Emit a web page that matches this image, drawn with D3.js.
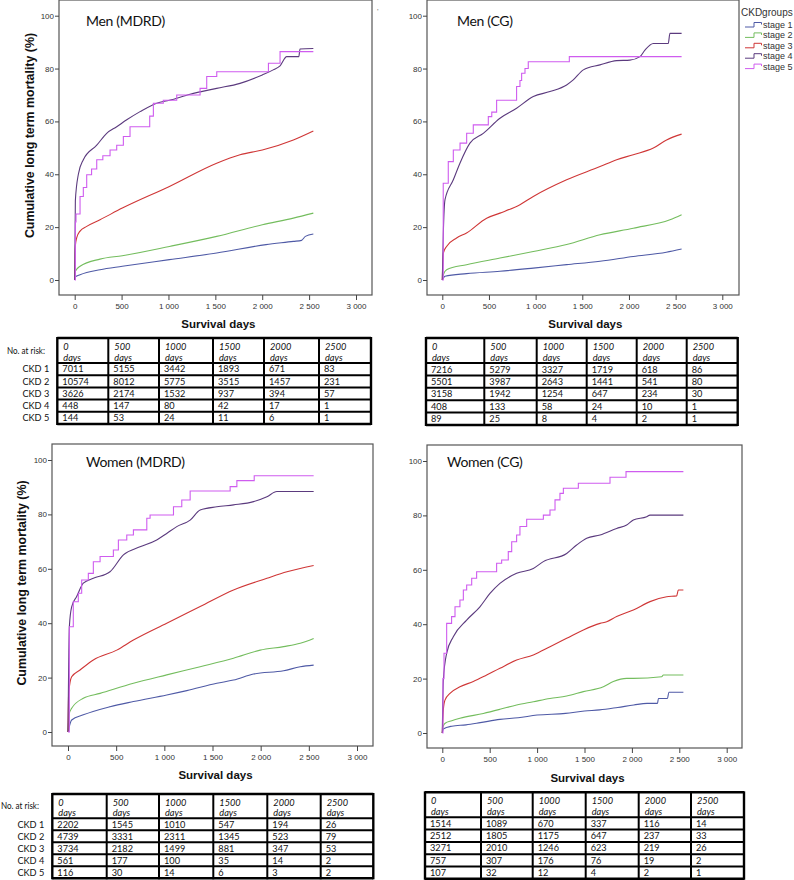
<!DOCTYPE html>
<html><head><meta charset="utf-8">
<script src="https://cdn.jsdelivr.net/npm/d3@7"></script>
<style>
body{margin:0;background:#fff;}
svg{display:block;}
</style></head>
<body><svg id="c" width="794" height="880"></svg>
<script>
// ---------- data ----------
const stages = ["stage 1","stage 2","stage 3","stage 4","stage 5"];
const stageColors = ["#4f5aa6","#74bd5e","#cf3636","#5b3a7e","#cf5cef"];
const xTicks = [0,500,1000,1500,2000,2500,3000];
const xTickLabels = ["0","500","1 000","1 500","2 000","2 500","3 000"];
const yTicks = [0,20,40,60,80,100];
const riskDays = ["0","500","1000","1500","2000","2500"];
const riskRows = ["CKD 1","CKD 2","CKD 3","CKD 4","CKD 5"];

// Men (MDRD) cumulative mortality [day, %]
const menMDRD1 = [[0,0],[7,1.2],[57,2],[270,3.9],[508,5.2],[1010,7.7],[1514,10.2],[2040,13.4],[2332,14.6],[2420,15],[2460,16.5],[2545,17.4]];
const menMDRD2 = [[0,0],[7,3.3],[57,5.2],[270,7.9],[508,9.2],[1010,12.7],[1514,16.5],[2001,20.9],[2332,23.4],[2545,25.3]];
const menMDRD3 = [[0,0],[3,10],[7,13],[21,15.9],[57,18.5],[128,20.3],[270,22.8],[508,27.2],[1010,35.4],[1514,44.2],[1763,47.4],[2001,49.2],[2332,53],[2545,56.4]];
const menMDRD4 = [[0,0],[7,30],[39,40],[92,45.5],[235,51],[341,55.5],[448,58],[555,60.6],[697,63.7],[875,66.9],[1010,68],[1230,70.3],[1514,72.5],[1763,74.4],[2001,77.6],[2117,79.5],[2190,81],[2261,84.5],[2390,84.5],[2403,87.4],[2545,87.6]];
const menMDRD5 = [[0,0],[7,22],[14,25],[57,31.6],[92,35],[128,39.8],[180,42],[235,45.5],[300,47],[377,49.2],[448,51],[519,54.3],[590,58],[800,62],[839,66.9],[945,68],[1088,70],[1337,72.5],[1408,77],[1515,78.8],[2066,82],[2190,86.4],[2545,86.4]];
// Men (CG)
const menCG1 = [[0,0],[29,1.4],[260,2.4],[618,3.3],[975,4.5],[1332,5.8],[1690,7.1],[2046,8.9],[2400,10.5],[2564,11.7]];
const menCG2 = [[0,0],[11,2],[46,3.9],[260,5.8],[618,8.3],[975,10.8],[1332,13.4],[1690,17.1],[2046,19.6],[2439,22.8],[2564,24.7]];
const menCG3 = [[0,0],[11,10.2],[46,12.7],[153,15.9],[260,17.8],[475,23.4],[618,25.3],[832,28.5],[975,31.6],[1332,37.9],[1690,42.9],[1868,45.5],[2046,47.4],[2261,49.9],[2403,53],[2564,55.2]];
const menCG4 = [[0,0],[11,17.8],[29,30.4],[118,37.9],[189,44.2],[296,51.8],[439,55.5],[618,61.2],[796,65],[975,69.4],[1153,71.3],[1332,73.8],[1403,75.7],[1511,79.5],[1689,81.4],[1868,83],[2010,83.2],[2118,84.5],[2171,87],[2261,89.5],[2421,89.5],[2439,93.3],[2564,93.3]];
const menCG5 = [[0,0],[10,36.6],[64,44.8],[118,49.2],[190,51.8],[261,55.5],[332,58.7],[493,61.8],[530,63.5],[582,68],[796,73.2],[832,75.5],[850,78.2],[886,80],[921,82.6],[1361,84.5],[2564,84.5]];
// Women (MDRD)
const womenMDRD1 = [[0,0],[38,4.4],[159,6.3],[436,9.3],[679,11.2],[1025,13.6],[1233,15.2],[1545,17.9],[1718,19.1],[1926,21.3],[2238,22.5],[2411,24],[2550,24.6]];
const womenMDRD2 = [[0,0],[14,6.9],[38,8.7],[159,12.4],[333,14.2],[679,17.9],[1025,21],[1372,24],[1718,27.1],[1995,30.1],[2238,31.4],[2411,32.6],[2550,34.4]];
const womenMDRD3 = [[0,0],[7,14.2],[38,20.3],[125,22.8],[263,26.5],[506,30.1],[679,33.8],[1025,40],[1372,46.1],[1718,52.2],[2065,56.5],[2273,58.9],[2550,61.2]];
const womenMDRD4 = [[0,0],[14,38.7],[38,46],[90,49.8],[159,54.7],[263,56.5],[436,58.9],[575,65.1],[748,68.1],[921,70.6],[1025,73],[1129,75.5],[1268,77.9],[1372,81.6],[1545,82.8],[1718,83.5],[1926,84.7],[2065,86.5],[2168,88.4],[2550,88.4]];
const womenMDRD5 = [[0,0],[14,38.7],[55,47.9],[107,51],[142,55.9],[211,58.3],[263,62.6],[333,64.5],[471,66.9],[523,70.6],[610,72.4],[679,74.3],[818,78.6],[852,79.8],[1095,82.8],[1181,85.3],[1268,88.6],[1683,90.2],[1753,92.4],[1933,94.2],[2550,94.2]];
// Women (CG)
const womenCG1 = [[0,0],[10,1.5],[100,2.5],[250,3],[400,3.8],[608,5],[800,5.6],[1000,6.6],[1300,7.2],[1500,8.1],[1660,8.5],[1850,9.4],[2020,10.3],[2160,10.9],[2270,10.9],[2280,12.7],[2375,12.7],[2390,15],[2543,15]];
const womenCG2 = [[0,0],[5,1.5],[10,2.5],[30,3.6],[100,4.5],[186,5.4],[433,7.2],[608,8.7],[784,10.3],[960,11.5],[1136,12.7],[1312,13.6],[1488,15.2],[1699,17],[1804,18.9],[1945,20.1],[2015,20.1],[2314,20.7],[2332,21.3],[2543,21.3]];
const womenCG3 = [[0,0],[11,8.5],[28,12.1],[81,14.6],[186,17],[327,18.9],[468,21.3],[608,23.8],[784,26.8],[960,28.7],[1136,31.7],[1312,34.8],[1488,37.9],[1664,40.3],[1734,40.9],[1839,42.8],[2015,45.2],[2191,48.3],[2367,50.1],[2472,50.4],[2490,52.6],[2543,52.6]];
const womenCG4 = [[0,0],[11,19.5],[46,29.3],[116,35.4],[257,41.5],[397,46.4],[503,51.3],[608,55],[784,58.7],[960,60.5],[1066,63],[1312,66],[1417,69.1],[1523,71.6],[1664,72.8],[1839,75.2],[1945,76.5],[2015,78.3],[2156,79.5],[2191,80.1],[2543,80.1]];
const womenCG5 = [[0,0],[7,20],[18,29.3],[46,40.3],[98,42.8],[134,46.4],[186,48.9],[222,52.6],[257,54.4],[310,56.9],[362,59.3],[573,62.4],[626,63.6],[696,66.7],[732,70.3],[784,72.8],[819,75.9],[890,78.6],[1066,80.1],[1136,82],[1189,85.7],[1241,88.1],[1277,90],[1435,91.8],[1769,94],[1938,96.1],[2543,96.1]];

// Numbers at risk
const riskMenMDRD = [[7011,5155,3442,1893,671,83],[10574,8012,5775,3515,1457,231],[3626,2174,1532,937,394,57],[448,147,80,42,17,1],[144,53,24,11,6,1]];
const riskMenCG = [[7216,5279,3327,1719,618,86],[5501,3987,2643,1441,541,80],[3158,1942,1254,647,234,30],[408,133,58,24,10,1],[89,25,8,4,2,1]];
const riskWomenMDRD = [[2202,1545,1010,547,194,26],[4739,3331,2311,1345,523,79],[3734,2182,1499,881,347,53],[561,177,100,35,14,2],[116,30,14,6,3,2]];
const riskWomenCG = [[1514,1089,670,337,116,14],[2512,1805,1175,647,237,33],[3271,2010,1246,623,219,26],[757,307,176,76,19,2],[107,32,12,4,2,1]];

// ---------- layout ----------
const panels = [
  {title:"Men (MDRD)", series:[menMDRD1,menMDRD2,menMDRD3,menMDRD4,menMDRD5], risk:riskMenMDRD,
   frame:[59,0,372,295], x0:74.7, x1:356, y0:280, y1:15.7, titleX:86, titleY:26, ylab:true, ylabX:30, legend:false,
   axisLabY:306, sdY:328, table:{cols:[57.3,108.3,159,213,264,319,371], top:338, head:363, row:12.2}, rowLabels:true, nrX:7},
  {title:"Men (CG)", series:[menCG1,menCG2,menCG3,menCG4,menCG5], risk:riskMenCG,
   frame:[427,0,739,295], x0:442.3, x1:722.3, y0:280, y1:15.7, titleX:457, titleY:26, ylab:false, legend:true,
   axisLabY:306, sdY:328, table:{cols:[426,484.3,536.7,586.7,636.7,686.7,737.7], top:338, head:363, row:12.4}, rowLabels:false},
  {title:"Women (MDRD)", series:[womenMDRD1,womenMDRD2,womenMDRD3,womenMDRD4,womenMDRD5], risk:riskWomenMDRD,
   frame:[52,444,373,746], x0:68, x1:357, y0:732, y1:460, titleX:86, titleY:467, ylab:true, ylabX:22, legend:false,
   axisLabY:757, sdY:779, table:{cols:[52.3,106.7,159,213.3,267.3,320.7,373.3], top:794, head:818.3, row:12}, rowLabels:true, nrX:1},
  {title:"Women (CG)", series:[womenCG1,womenCG2,womenCG3,womenCG4,womenCG5], risk:riskWomenCG,
   frame:[427,445,742,748], x0:442.3, x1:726.7, y0:733, y1:461, titleX:447, titleY:467, ylab:false, legend:false,
   axisLabY:759, sdY:782, table:{cols:[425,481,532.7,585.7,638.7,691,744], top:792.3, head:817.3, row:12.3}, rowLabels:false}
];

const svg = d3.select("#c");
const AX = "'Liberation Sans', Arial, sans-serif";
const CAL = "Lato, 'Open Sans', sans-serif";

panels.forEach(p => {
  const g = svg.append("g");
  const [fl, ft, fr, fb] = p.frame;
  const x = d3.scaleLinear().domain([0,3000]).range([p.x0, p.x1]);
  const y = d3.scaleLinear().domain([0,100]).range([p.y0, p.y1]);

  g.append("rect").attr("x",fl).attr("y",ft).attr("width",fr-fl).attr("height",fb-ft)
    .attr("fill","#fff").attr("stroke","#555").attr("stroke-width",1.2);

  const ya = g.append("g").attr("transform",`translate(${fl},0)`)
    .call(d3.axisLeft(y).tickValues(yTicks).tickSize(4).tickPadding(1));
  const xa = g.append("g").attr("transform",`translate(0,${fb})`)
    .call(d3.axisBottom(x).tickValues(xTicks).tickFormat((d,i)=>xTickLabels[i]).tickSize(5).tickPadding(2));
  [ya,xa].forEach(a=>{
    a.select(".domain").remove();
    a.selectAll("line").attr("stroke","#444");
    a.selectAll("text").attr("fill","#333").style("font-family",AX).style("font-size","8px");
  });
  xa.selectAll("text").attr("y",null).attr("dy",null)
    .attr("y", p.axisLabY - fb + 3);

  p.series.forEach((s,i) => {
    const line = d3.line().x(d=>x(d[0])).y(d=>y(d[1]))
      .curve(i===4 ? d3.curveStepAfter : d3.curveMonotoneX);
    g.append("path").datum(s).attr("d",line).attr("fill","none")
      .attr("stroke",stageColors[i]).attr("stroke-width",1.1);
  });

  g.append("text").attr("x",p.titleX).attr("y",p.titleY).text(p.title)
    .style("font-family",CAL).style("font-size","14px").style("letter-spacing","-0.3px").attr("fill","#111");

  g.append("text").attr("x",(p.x0+p.x1)/2 + 3).attr("y",p.sdY).attr("text-anchor","middle")
    .text("Survival days").style("font-family",AX).style("font-weight","bold").style("font-size","11.5px").attr("fill","#111");
  if (p.ylab) {
    const cy = (ft+fb)/2 - 12;
    g.append("text").attr("transform",`translate(${p.ylabX},${cy}) rotate(-90)`).attr("text-anchor","middle")
      .attr("dy","0.35em")
      .text("Cumulative long term mortality (%)").style("font-family",AX).style("font-weight","bold")
      .style("font-size","12.4px").attr("fill","#111");
  }

  if (p.legend) {
    const lg = svg.append("g");
    lg.append("text").attr("x",741).attr("y",15.5).text("CKDgroups")
      .style("font-family",AX).style("font-size","10px").attr("fill","#333");
    stages.forEach((st,i)=>{
      const yy = 25 + i*10.4;
      lg.append("path").attr("d",`M745,${yy+2}H754V${yy-2.5}H761.5V${yy-0.5}`)
        .attr("fill","none").attr("stroke",stageColors[i]).attr("stroke-width",1);
      lg.append("text").attr("x",763).attr("y",yy+3).text(st)
        .style("font-family",AX).style("font-size","9px").attr("fill","#333");
    });
    lg.append("text").attr("x",377).attr("y",14).text("'")
      .style("font-family",AX).style("font-size","8px").attr("fill","#777");
  }

  const t = p.table, cols = t.cols;
  const tg = svg.append("g");
  const bottom = t.head + t.row*5;
  riskDays.forEach((d,j)=>{
    const tx = cols[j] + 6;
    tg.append("text").attr("x",tx).attr("y",t.top+12).text(d)
      .style("font-family",CAL).style("font-style","italic").style("font-size","9.2px").attr("fill","#111");
    tg.append("text").attr("x",tx).attr("y",t.head-2.5).text("days")
      .style("font-family",CAL).style("font-style","italic").style("font-size","9.2px").attr("fill","#111");
  });
  p.risk.forEach((row,r)=>{
    const ry = t.head + t.row*r;
    row.forEach((v,j)=>{
      tg.append("text").attr("x",cols[j]+5).attr("y",ry+t.row/2).attr("dy","0.36em").text(v)
        .style("font-family",CAL).style("font-size","9.2px").attr("fill","#111");
    });
  });
  const hl = [t.top, t.head]; for (let r=1;r<=5;r++) hl.push(t.head + t.row*r);
  hl.forEach((yy,k)=>{
    tg.append("line").attr("x1",cols[0]).attr("x2",cols[6]).attr("y1",yy).attr("y2",yy)
      .attr("stroke","#000").attr("stroke-width", (k===0||k===hl.length-1)?2.4:2);
  });
  cols.forEach((cx,k)=>{
    tg.append("line").attr("x1",cx).attr("x2",cx).attr("y1",t.top-1).attr("y2",bottom+1)
      .attr("stroke","#000").attr("stroke-width",(k===0||k===6)?2.4:2);
  });
  if (p.rowLabels) {
    tg.append("text").attr("x", p.nrX).attr("y",(t.top+t.head)/2).attr("dy","0.35em")
      .attr("text-anchor","start").text("No. at risk:")
      .attr("textLength",38).attr("lengthAdjust","spacingAndGlyphs")
      .style("font-family",CAL).style("font-size","9px").attr("fill","#111");
    riskRows.forEach((lab,r)=>{
      tg.append("text").attr("x", cols[0]-8).attr("y",t.head + t.row*r + t.row/2).attr("dy","0.36em")
        .attr("text-anchor","end").text(lab)
        .style("font-family",CAL).style("font-size","9.2px").attr("fill","#111");
    });
  }
});
</script></body></html>
